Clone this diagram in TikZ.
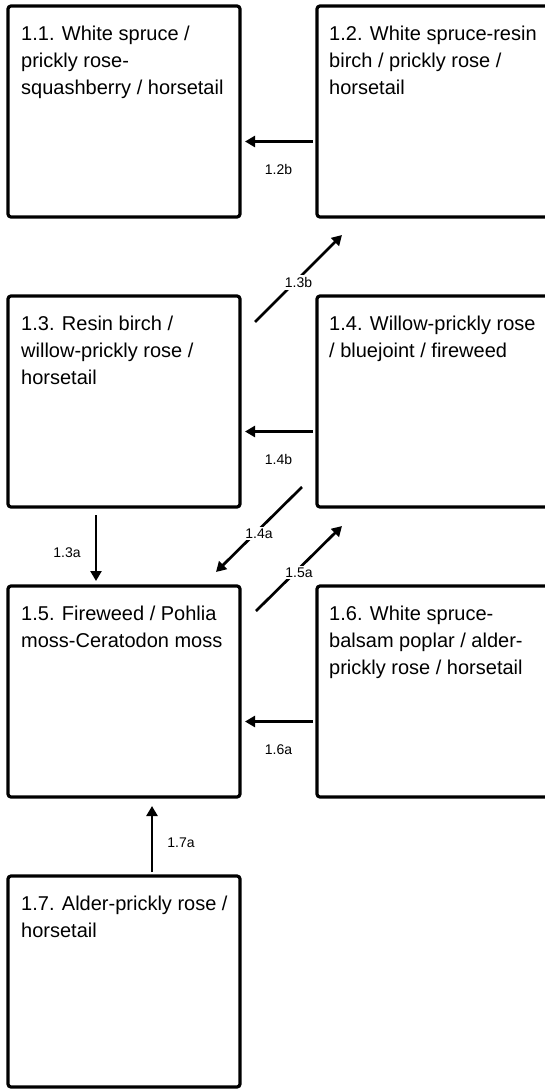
\documentclass[tikz,border=0pt]{standalone}
\usepackage{fontspec}
\setmainfont{Liberation Sans}
\usetikzlibrary{positioning, arrows.meta}

\begin{document}
\begin{tikzpicture}[
        x=1pt, y=-1pt,
        box/.style={draw, line width=3.2pt, rounded corners=3pt, minimum width=232pt,
            minimum height=211pt, inner sep=0pt, outer sep=0pt},
        boxtxt/.style={anchor=north west, inner sep=0pt, align=left,
            font=\fontsize{20}{26.8}\selectfont},
        trans/.style={line width=2.7pt, -{Triangle[length=10pt, width=11pt]}},
        lbl/.style={font=\fontsize{14}{16}\selectfont, fill=white, inner sep=2pt}
    ]

    % Page frame (right column runs off the edge)
    \useasboundingbox (0, 0) rectangle (545, 1089);
    \clip (0, 0) rectangle (545, 1089);

    % === COMMUNITY BOXES ===
    % Left column x=124, right column x=433, rows 290 apart
    \node[box] (n11) at (124, 111.5) {};
    \node[box] (n12) at (433, 111.5) {};
    \node[box] (n13) at (124, 401.5) {};
    \node[box] (n14) at (433, 401.5) {};
    \node[box] (n15) at (124, 691.5) {};
    \node[box] (n16) at (433, 691.5) {};
    \node[box] (n17) at (124, 981.5) {};

    % Box titles, top left
    \node[boxtxt] (t11) at ([shift={(13, 20)}]n11.north west)
        {1.1. White spruce /\\prickly rose-\\squashberry / horsetail};
    \node[boxtxt] (t12) at ([shift={(12, 20)}]n12.north west)
        {1.2. White spruce-resin\\birch / prickly rose /\\horsetail};
    \node[boxtxt] (t13) at ([shift={(13, 20)}]n13.north west)
        {1.3. Resin birch /\\willow-prickly rose /\\horsetail};
    \node[boxtxt] (t14) at ([shift={(12, 20)}]n14.north west)
        {1.4. Willow-prickly rose\\/ bluejoint / fireweed};
    \node[boxtxt] (t15) at ([shift={(13, 20)}]n15.north west)
        {1.5. Fireweed / Pohlia\\moss-Ceratodon moss};
    \node[boxtxt] (t16) at ([shift={(12, 20)}]n16.north west)
        {1.6. White spruce-\\balsam poplar / alder-\\prickly rose / horsetail};
    \node[boxtxt] (t17) at ([shift={(13, 20)}]n17.north west)
        {1.7. Alder-prickly rose /\\horsetail};

    % === TRANSITIONS ===
    % Right to left, 30 below box centre
    \draw[trans, shorten <=4pt, shorten >=5pt] ([yshift=-30pt]n12.west) -- ([yshift=-30pt]n11.east)
        node[lbl, midway, yshift=-28pt] (l12b) {1.2b};
    \draw[trans, shorten <=4pt, shorten >=5pt] ([yshift=-30pt]n14.west) -- ([yshift=-30pt]n13.east)
        node[lbl, midway, yshift=-28pt] (l14b) {1.4b};
    \draw[trans, shorten <=4pt, shorten >=5pt] ([yshift=-30pt]n16.west) -- ([yshift=-30pt]n15.east)
        node[lbl, midway, yshift=-28pt] (l16a) {1.6a};

    % Diagonals between the columns
    \draw[trans] ([shift={(15, 26)}]n13.north east) -- ([shift={(25, 18)}]n12.south west)
        node[lbl, midway, yshift=-4pt] (l13b) {1.3b};
    \draw[trans] ([shift={(-15, -20)}]n14.south west) -- ([shift={(-24, -14)}]n15.north east)
        node[lbl, midway, yshift=-4pt] (l14a) {1.4a};
    \draw[trans] ([shift={(16, 25)}]n15.north east) -- ([shift={(25, 19)}]n14.south west)
        node[lbl, midway, yshift=-4pt] (l15a) {1.5a};

    % Vertical, left column
    \draw[trans, shorten <=8pt, shorten >=5pt] ([xshift=-28pt]n13.south) -- ([xshift=-28pt]n15.north)
        node[lbl, midway, xshift=-29pt, yshift=-6pt] (l13a) {1.3a};
    \draw[trans, shorten <=4pt, shorten >=9pt] ([xshift=28pt]n17.north) -- ([xshift=28pt]n15.south)
        node[lbl, midway, xshift=29pt, yshift=-6pt] (l17a) {1.7a};

\end{tikzpicture}
\end{document}
